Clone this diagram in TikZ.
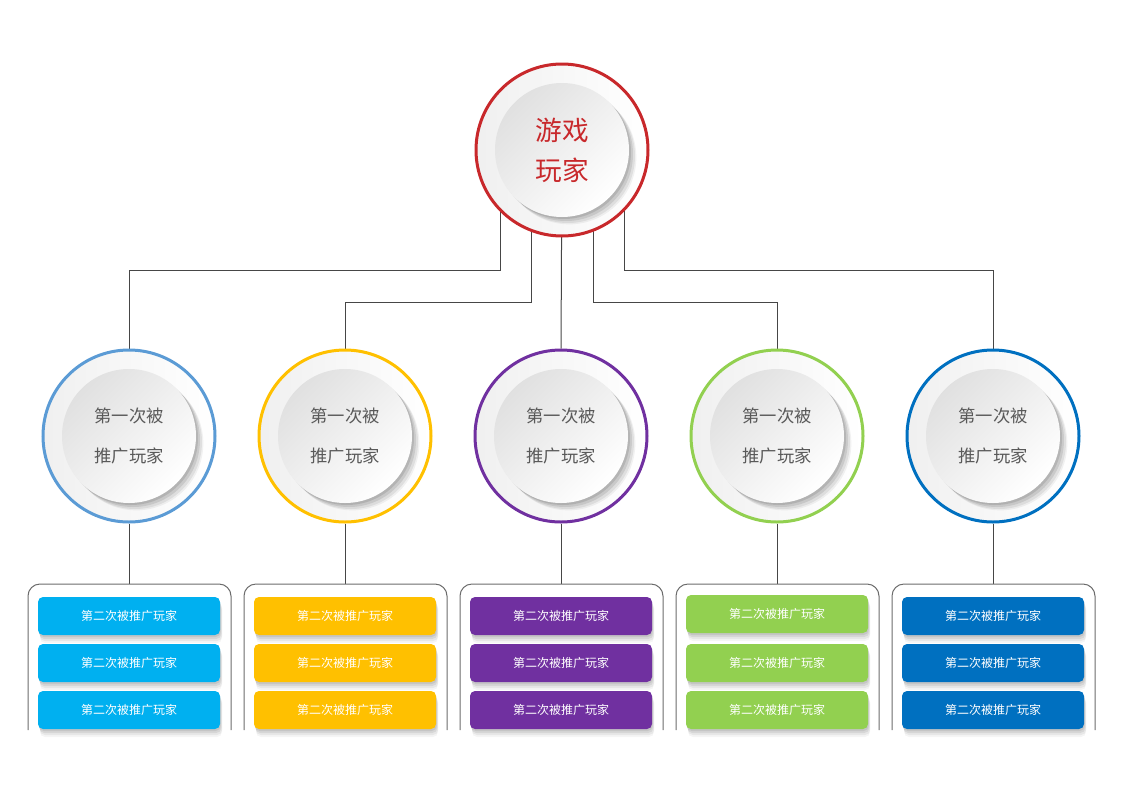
\documentclass[tikz,border=0pt]{standalone}
\usepackage{fontspec}
\newfontfamily\cjk{Noto Sans CJK SC}
\usepackage{tikz}
\usetikzlibrary{shadows,backgrounds,calc}
\usepackage{xcolor}
\definecolor{clrred}{RGB}{200,40,43}
\definecolor{clrsky}{RGB}{91,155,213}
\definecolor{clrgold}{RGB}{255,192,0}
\definecolor{clrpurple}{RGB}{112,48,160}
\definecolor{clrgreen}{RGB}{146,208,80}
\definecolor{clrblue}{RGB}{0,112,192}
\definecolor{clrcyan}{RGB}{0,176,240}
\definecolor{clrline}{RGB}{70,70,70}
\definecolor{clrtext}{RGB}{89,89,89}

\begin{document}
\begin{tikzpicture}[
    x=0.75pt, y=-0.75pt,
    font=\cjk,
    ring/.style={circle, draw, line width=2.25pt, minimum size=129pt,
                 inner sep=0pt, left color=black!6, right color=white},
    softc/.style={general shadow={fill=black, opacity=.10, shadow xshift=1.5pt, shadow yshift=-1.5pt},
                  general shadow={fill=black, opacity=.09, shadow xshift=3pt, shadow yshift=-3pt},
                  general shadow={fill=black, opacity=.07, shadow xshift=4.5pt, shadow yshift=-4.5pt},
                  general shadow={fill=black, opacity=.05, shadow xshift=5.5pt, shadow yshift=-5.5pt}},
    core/.style={circle, minimum size=100.5pt, inner sep=0pt, softc,
                 top color=black!12, bottom color=white, shading angle=45,
                 align=center, text=clrtext, font=\cjk\fontsize{13}{30}\selectfont},
    softb/.style={general shadow={fill=black, opacity=.08, shadow yshift=-1.5pt, shadow xshift=.5pt},
                  general shadow={fill=black, opacity=.07, shadow yshift=-3pt, shadow xshift=1pt},
                  general shadow={fill=black, opacity=.06, shadow yshift=-4.5pt, shadow xshift=1.5pt},
                  general shadow={fill=black, opacity=.04, shadow yshift=-6pt, shadow xshift=1.5pt}},
    box/.style={rounded corners=3.75pt, minimum width=136.5pt, minimum height=28.5pt,
                inner sep=0pt, text=white, font=\cjk\fontsize{9}{11}\selectfont, softb},
    grp/.style={draw=clrline!80, line width=0.75pt, rounded corners=9pt},
    link/.style={draw=clrline, line width=0.75pt},
  ]
    \useasboundingbox (0,0) rectangle (1122,793);

    % top player
    \node[ring, draw=clrred] (root)  at (562,150) {};
    \node[core, text=clrred, font=\cjk\fontsize{20}{30}\selectfont] (rootc) at (562,150) {游戏\\玩家};

    % first level
    \node[ring, draw=clrsky]    (p1) at (129,436) {};
    \node[core]                 (p1c) at (129,436) {第一次被\\推广玩家};
    \node[ring, draw=clrgold]   (p2) at (345,436) {};
    \node[core]                 (p2c) at (345,436) {第一次被\\推广玩家};
    \node[ring, draw=clrpurple] (p3) at (561,436) {};
    \node[core]                 (p3c) at (561,436) {第一次被\\推广玩家};
    \node[ring, draw=clrgreen]  (p4) at (777,436) {};
    \node[core]                 (p4c) at (777,436) {第一次被\\推广玩家};
    \node[ring, draw=clrblue]   (p5) at (993,436) {};
    \node[core]                 (p5c) at (993,436) {第一次被\\推广玩家};

    % second level groups
    \coordinate (g1) at (129,584);
    \coordinate (g2) at (345,584);
    \coordinate (g3) at (561,584);
    \coordinate (g4) at (777,584);
    \coordinate (g5) at (993,584);
    \draw[grp] (g1) ++(-101,146) |- ++(203,-146) -- ++(0,146);
    \draw[grp] (g2) ++(-101,146) |- ++(203,-146) -- ++(0,146);
    \draw[grp] (g3) ++(-101,146) |- ++(203,-146) -- ++(0,146);
    \draw[grp] (g4) ++(-101,146) |- ++(203,-146) -- ++(0,146);
    \draw[grp] (g5) ++(-101,146) |- ++(203,-146) -- ++(0,146);

    \node[box, fill=clrcyan]   (b11) at (129,616) {第二次被推广玩家};
    \node[box, fill=clrcyan]   (b12) at (129,663) {第二次被推广玩家};
    \node[box, fill=clrcyan]   (b13) at (129,710) {第二次被推广玩家};
    \node[box, fill=clrgold]   (b21) at (345,616) {第二次被推广玩家};
    \node[box, fill=clrgold]   (b22) at (345,663) {第二次被推广玩家};
    \node[box, fill=clrgold]   (b23) at (345,710) {第二次被推广玩家};
    \node[box, fill=clrpurple] (b31) at (561,616) {第二次被推广玩家};
    \node[box, fill=clrpurple] (b32) at (561,663) {第二次被推广玩家};
    \node[box, fill=clrpurple] (b33) at (561,710) {第二次被推广玩家};
    \node[box, fill=clrgreen]  (b41) at (777,614) {第二次被推广玩家};
    \node[box, fill=clrgreen]  (b42) at (777,663) {第二次被推广玩家};
    \node[box, fill=clrgreen]  (b43) at (777,710) {第二次被推广玩家};
    \node[box, fill=clrblue]   (b51) at (993,616) {第二次被推广玩家};
    \node[box, fill=clrblue]   (b52) at (993,663) {第二次被推广玩家};
    \node[box, fill=clrblue]   (b53) at (993,710) {第二次被推广玩家};

    \begin{scope}[on background layer]
      \draw[link] (root.center) ++(-62,0) -- ++(0,120) -| (p1.north);
      \draw[link] (root.center) ++(-31,0) -- ++(0,152) -| (p2.north);
      \draw[link] (root.center) -- (p3.north);
      \draw[link] (root.center) ++(31,0) -- ++(0,152) -| (p4.north);
      \draw[link] (root.center) ++(62,0) -- ++(0,120) -| (p5.north);

      \draw[link] (p1.south) -- (g1);
      \draw[link] (p2.south) -- (g2);
      \draw[link] (p3.south) -- (g3);
      \draw[link] (p4.south) -- (g4);
      \draw[link] (p5.south) -- (g5);
    \end{scope}
  \end{tikzpicture}
\end{document}
